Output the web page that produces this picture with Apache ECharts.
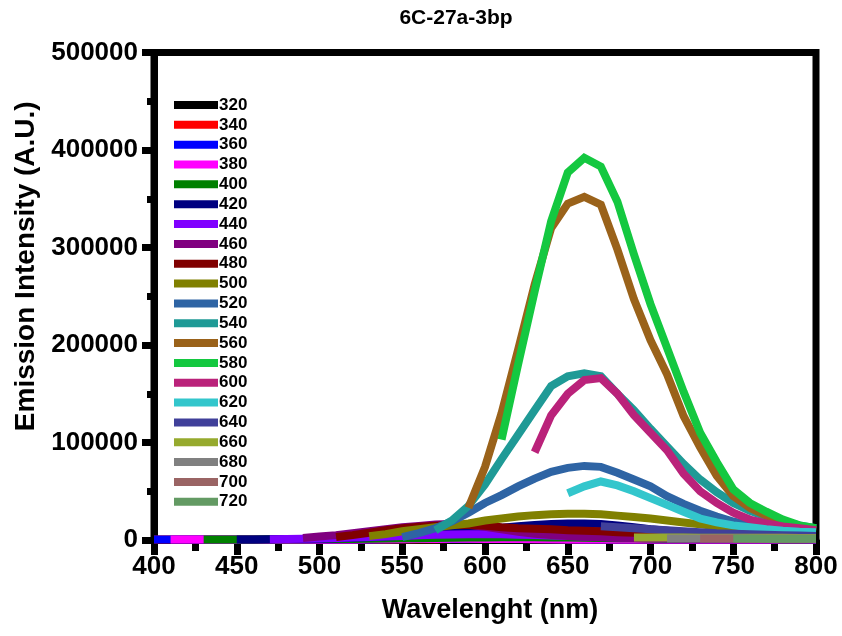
<!DOCTYPE html>
<html>
<head>
<meta charset="utf-8">
<script src="https://cdn.jsdelivr.net/npm/echarts@6/dist/echarts.min.js"></script>
<style>
html,body{margin:0;padding:0;background:#fff;}
#chart{width:842px;height:636px;}
</style>
</head>
<body>
<div id="chart"></div>
<script>
// ---- data ----
const wavelengths = [400,410,420,430,440,450,460,470,480,490,500,510,520,530,540,550,560,570,580,590,600,610,620,630,640,650,660,670,680,690,700,710,720,730,740,750,760,770,780,790,800];
const excitations = ['320','340','360','380','400','420','440','460','480','500','520','540','560','580','600','620','640','660','680','700','720'];
const startWl = [400,400,400,410,430,450,470,490,510,530,550,570,590,610,630,650,670,690,710,730,750];
const colors = ['#000000','#FF0000','#0000FF','#FF00FF','#008000','#000080','#8000FF','#800080','#800000','#808000','#2E64A4','#1F9A96','#9A621A','#14C840','#BA227A','#33C6CC','#40409A','#96AA2E','#808080','#9A6464','#639A63'];

const s320 = [300,300,300,300,300,300,300,300,300,300,300,300,300,300,300,300,300,400,400,400,400,400,400,400,400,400,400,400,400,300,300,300,300,300,300,300,300,300,300,300,300];
const s340 = [400,400,400,400,400,400,400,400,400,400,400,400,400,500,500,600,700,800,900,1000,1100,1100,1000,900,800,700,600,600,500,500,500,400,400,400,400,400,400,400,400,400,400];
const s360 = [500,500,500,500,500,500,500,500,500,500,500,500,600,600,700,800,900,1000,1100,1200,1200,1100,1000,900,800,700,600,600,500,500,500,500,500,500,500,500,500,400,400,400,400];
const s380 = [500,500,500,500,500,500,500,500,500,500,600,600,700,800,900,1000,1100,1200,1200,1100,1000,900,800,700,600,600,500,500,500,500,500,500,500,500,500,400,400,400,400,400];
const s400 = [600,600,600,600,700,700,800,900,1000,1100,1300,1500,1700,1900,2100,2300,2500,2600,2700,2700,2700,2600,2500,2300,2100,1900,1700,1500,1400,1300,1200,1100,1000,900,900,800,800,800];
const s420 = [500,600,700,900,1100,1400,1800,2300,2900,3600,4400,5300,6500,8000,9500,11000,12500,14000,15500,16500,17000,17000,16500,15000,13000,11000,9500,8000,7000,6000,5000,4500,4000,3500,3000,2800];
const s440 = [800,1000,1300,1600,2000,2500,3000,3600,4200,4800,5300,5700,6000,6000,5800,5500,5000,4500,4000,3500,3000,2700,2400,2100,1900,1700,1500,1400,1300,1200,1100,1000,900,800];
const s460 = [2000,3500,5000,7000,9000,11000,13000,14500,16000,16500,15500,13500,11000,8500,6500,5000,4000,3300,2800,2400,2100,1900,1700,1500,1400,1300,1200,1100,1000,1000,900,900];
const s480 = [3000,5000,7500,10000,12000,13500,14500,15500,15500,14500,13000,12000,11500,11000,10000,9500,9000,8000,7500,7000,6500,6000,5500,5000,4500,4000,3500,3200,3000,2800];
const s500 = [4000,6000,9000,11000,13000,15000,17000,20000,22000,24000,25500,26500,27000,27000,26500,25000,23500,22000,20000,18000,16000,14000,12500,11000,10000,9000,8000,7000];
const s520 = [3000,7000,12000,19000,28000,38000,46000,55000,63000,70000,74000,76000,75000,69000,62000,55000,45000,37000,30000,24000,19000,15000,13000,11000,10000,9000];
const s540 = [10000,20000,35000,57000,83000,108000,133000,158000,168000,171000,168000,150000,133000,114000,96000,78000,62000,49000,38000,30000,24000,19000,15000,12000];
const s560 = [33000,75000,130000,195000,262000,320000,345000,352000,344000,298000,247000,205000,170000,127000,95000,66000,45000,33000,25000,18000,13000,10000];
const s580 = [103000,180000,255000,327000,377000,392000,383000,347000,293000,242000,197000,152000,110000,80000,52000,38000,29000,21000,15000,12000];
const s600 = [90000,128000,150000,164000,166000,150000,128000,110000,92000,68000,50000,38000,28000,21000,17000,14000,12000,10000];
const s620 = [48000,55000,60000,56000,50000,43000,36000,29000,22000,18000,15000,13000,11000,9500,8500,8000];
const s640 = [14000,13000,12000,11000,10000,9000,8000,7000,6500,6000,5500,5000,4500,4000];
const s660 = [2500,2500,2500,2500,2400,2400,2300,2300,2200,2200,2100,2100];
const s680 = [1500,1500,1500,1500,1500,1400,1400,1400,1300,1300];
const s700 = [1500,1500,1500,1400,1400,1400,1300,1300];
const s720 = [1500,1500,1400,1400,1300,1300];
const seriesValues = [s320,s340,s360,s380,s400,s420,s440,s460,s480,s500,s520,s540,s560,s580,s600,s620,s640,s660,s680,s700,s720];

const yTicks = [0,100000,200000,300000,400000,500000];
const xTicks = [400,450,500,550,600,650,700,750,800];

// ---- chart ----
const FONT = "'Liberation Sans',Arial,Helvetica,sans-serif";
const chart = echarts.init(document.getElementById('chart'), null, {renderer:'canvas'});

const series = excitations.map((name, k) => {
  const xs = wavelengths.filter(w => w >= startWl[k]);
  return {
    name: name,
    type: 'line',
    symbol: 'none',
    showSymbol: false,
    data: xs.map((w, i) => [w, seriesValues[k][i]]),
    lineStyle: {width: 8, color: colors[k], cap: 'butt', join: 'miter'},
    itemStyle: {color: colors[k]},
    emphasis: {disabled: true},
    z: 2
  };
});

chart.setOption({
  animation: false,
  backgroundColor: '#ffffff',
  title: {
    text: '6C-27a-3bp',
    left: 451, top: 3, textAlign: 'center',
    textStyle: {fontFamily: FONT, fontWeight: 'bold', fontSize: 21, color: '#000'}
  },
  grid: {
    left: 154, right: 26, top: 52.5, bottom: 96,
    show: true, borderColor: '#000', borderWidth: 7, backgroundColor: 'transparent'
  },
  legend: {
    orient: 'vertical', left: 169, top: 91.5, height: 520,
    data: excitations,
    icon: 'rect', itemWidth: 44, itemHeight: 8, itemGap: 2.84,
    selectedMode: false,
    textStyle: {fontFamily: FONT, fontWeight: 'bold', fontSize: 17, color: '#000', padding: [0,0,0,-4]}
  },
  xAxis: {
    type: 'value', min: xTicks[0], max: xTicks[xTicks.length-1], interval: 50,
    name: 'Wavelenght (nm)', nameLocation: 'middle', nameGap: 57,
    nameTextStyle: {fontFamily: FONT, fontWeight: 'bold', fontSize: 27, color: '#000', padding: [0,0,0,10]},
    axisLine: {show: true, onZero: false, lineStyle: {color: '#000', width: 7}},
    axisTick: {show: true, inside: false, length: 15, lineStyle: {color: '#000', width: 7}},
    minorTick: {show: true, splitNumber: 2, length: 11, lineStyle: {color: '#000', width: 7}},
    axisLabel: {margin: 14, fontFamily: FONT, fontWeight: 'bold', fontSize: 26, color: '#000'},
    splitLine: {show: false}
  },
  yAxis: {
    type: 'value', min: yTicks[0], max: yTicks[yTicks.length-1], interval: 100000,
    name: 'Emission Intensity (A.U.)', nameLocation: 'middle', nameGap: 102, nameRotate: 90,
    nameTextStyle: {fontFamily: FONT, fontWeight: 'bold', fontSize: 28, color: '#000', padding: [0,0,0,60]},
    axisLine: {show: true, lineStyle: {color: '#000', width: 7}},
    axisTick: {show: true, inside: false, length: 12, lineStyle: {color: '#000', width: 7}},
    minorTick: {show: true, splitNumber: 2, length: 7, lineStyle: {color: '#000', width: 7}},
    axisLabel: {margin: 16, fontFamily: FONT, fontWeight: 'bold', fontSize: 26, color: '#000',
      formatter: v => String(v)},
    splitLine: {show: false}
  },
  series: series
});
</script>
</body>
</html>
